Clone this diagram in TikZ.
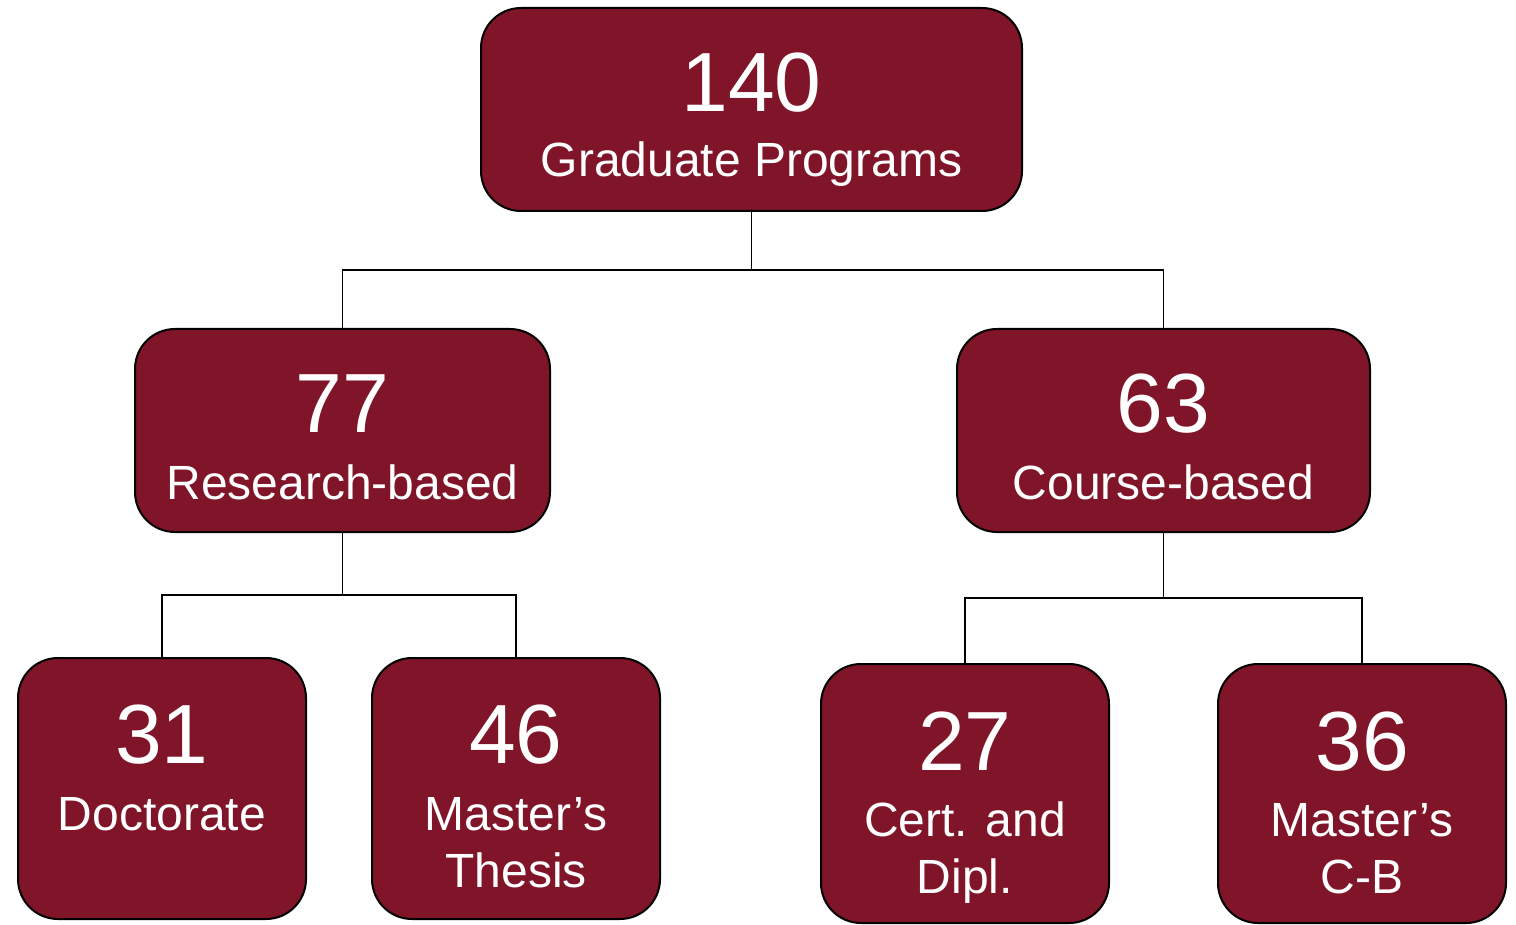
\documentclass[tikz,border=0pt]{standalone}
\usepackage{fontspec}
\setmainfont{Liberation Sans}
\definecolor{maroon}{RGB}{128,20,41}
\tikzset{
  prog/.style={draw=black, line width=1pt, fill=maroon, rounded corners=20pt,
    inner sep=0pt, outer sep=0pt},
  num/.style={text=white, inner sep=0pt, anchor=base,
    font=\fontsize{42}{44}\selectfont},
  lbl/.style={text=white, inner sep=0pt, anchor=base, align=center,
    font=\fontsize{24}{28.5}\selectfont},
  link/.style={draw=black, line width=0.75pt}
}
\begin{document}
\begin{tikzpicture}[x=0.5pt, y=-0.5pt]
	\useasboundingbox (0,0) rectangle (1516,925);
	% boxes
	\node[prog, minimum width=270.5pt, minimum height=101.5pt] (top) at (751.5,109.5) {};
	\node[prog, minimum width=207.5pt, minimum height=101.5pt] (res) at (342.5,430.5) {};
	\node[prog, minimum width=206.5pt, minimum height=101.5pt] (crs) at (1163.5,430.5) {};
	\node[prog, minimum width=144pt, minimum height=130.5pt] (doc) at (162,788.5) {};
	\node[prog, minimum width=144pt, minimum height=130.5pt] (mth) at (516,788.5) {};
	\node[prog, minimum width=144pt, minimum height=129.5pt] (cert) at (965,793.5) {};
	\node[prog, minimum width=144pt, minimum height=129.5pt] (mcb) at (1362,793.5) {};

	% texts (two-line labels sit on their last baseline)
	\node[num] (topnum) at (751.5,112) {140};
	\node[lbl] (toplbl) at (751.5,177) {Graduate Programs};
	\node[num] (resnum) at (342.5,432) {77};
	\node[lbl] (reslbl) at (342.5,499) {Research-based};
	\node[num] (crsnum) at (1163.5,432) {63};
	\node[lbl] (crslbl) at (1163.5,499) {Course-based};
	\node[num] (docnum) at (162,763) {31};
	\node[lbl] (doclbl) at (162,830) {Doctorate};
	\node[num] (mthnum) at (516,763) {46};
	\node[lbl] (mthlbl) at (516,887) {Master’s\\Thesis};
	\node[num] (certnum) at (965,770) {27};
	\node[lbl] (certlbl) at (965,893) {Cert. and\\Dipl.};
	\node[num] (mcbnum) at (1362,770) {36};
	\node[lbl] (mcblbl) at (1362,893) {Master’s\\C-B};

	% connectors
	\draw[link] (top.south) -- ++(0,59) -| (res.north);
	\draw[link] (top.south) -- ++(0,59) -| (crs.north);
	\draw[link] (res.south) -- ++(0,63) -| (doc.north);
	\draw[link] (res.south) -- ++(0,63) -| (mth.north);
	\draw[link] (crs.south) -- ++(0,66) -| (cert.north);
	\draw[link] (crs.south) -- ++(0,66) -| (mcb.north);
\end{tikzpicture}
\end{document}
